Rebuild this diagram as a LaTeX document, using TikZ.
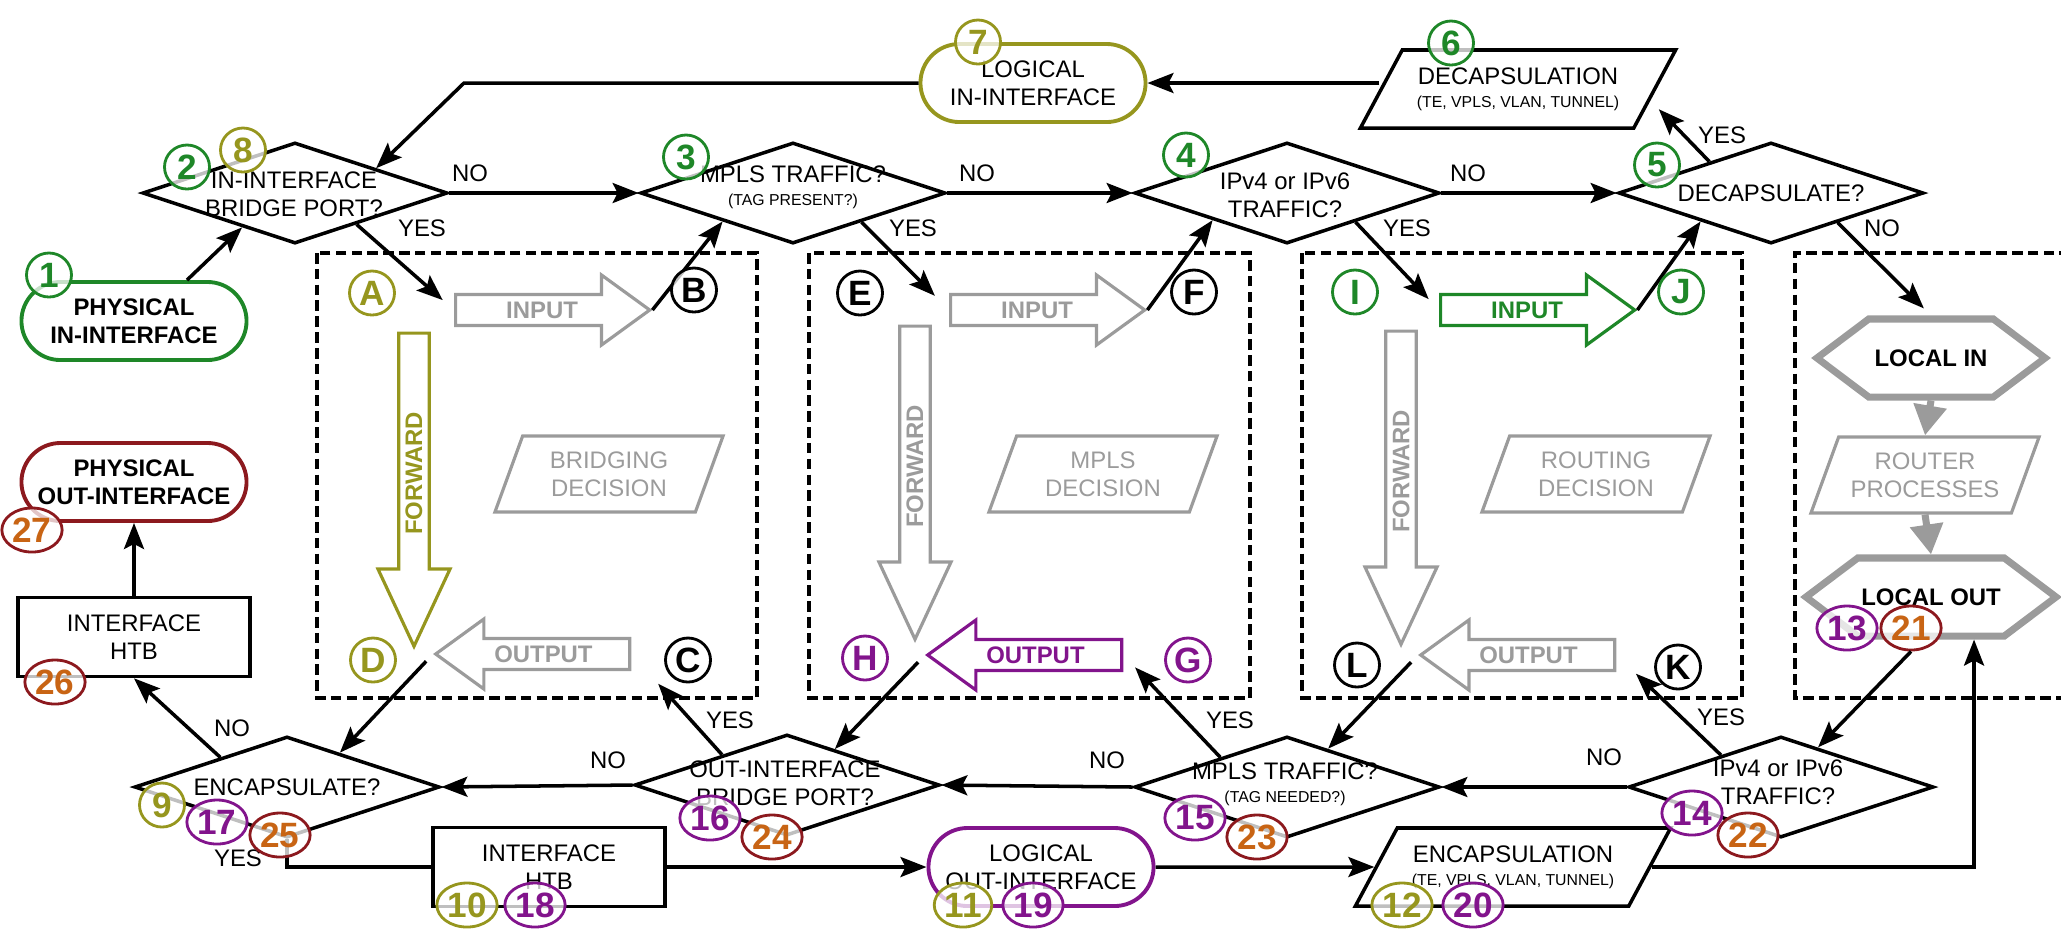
\documentclass[tikz,border=0pt]{standalone}
\usepackage{fontspec}
\setmainfont{Liberation Sans}
\usetikzlibrary{shapes.geometric, shapes.misc, shapes.arrows, shapes.symbols, arrows.meta}

\definecolor{cgreen}{RGB}{30,135,40}
\definecolor{colive}{RGB}{150,150,30}
\definecolor{cpurple}{RGB}{130,20,140}
\definecolor{cdred}{RGB}{140,25,30}
\definecolor{corange}{RGB}{200,100,20}
\definecolor{cgray}{RGB}{155,155,155}

\newcommand{\ft}{\fontsize{6.8}{8}\selectfont}
\newcommand{\fsm}{\fontsize{4.5}{5}\selectfont}
\newcommand{\fnum}{\fontsize{10}{10}\selectfont\bfseries}

\tikzset{
  decision/.style={diamond, draw=black, line width=1pt, inner sep=0pt, aspect=3, minimum width=3.05cm, minimum height=1.01cm},
  txt/.style={font=\ft, align=center, inner sep=0pt},
  iface/.style={rounded rectangle, draw=#1, line width=1.1pt, minimum width=2.32cm, minimum height=0.78cm, font=\ft\bfseries, align=center, inner sep=1pt},
  htb/.style={rectangle, draw=black, line width=1pt, minimum width=2.32cm, minimum height=0.79cm, font=\ft, align=center},
  proc/.style={trapezium, trapezium left angle=50, trapezium right angle=130, trapezium stretches body, draw=black, line width=1pt, minimum width=3.15cm, minimum height=0.78cm, font=\ft, align=center, inner sep=1pt},
  gproc/.style={trapezium, trapezium left angle=62, trapezium right angle=118, trapezium stretches body, draw=cgray, line width=0.9pt, minimum width=2.28cm, minimum height=0.76cm, font=\ft, text=cgray, align=center, inner sep=1pt},
  hexa/.style={signal, signal to=east and west, signal pointer angle=74, draw=cgray, line width=2pt, minimum width=2.28cm, minimum height=0.78cm, font=\ft\bfseries, inner sep=1pt},
  num/.style={ellipse, draw=#1, text=#1, line width=0.8pt, fill=white, fill opacity=0.75, text opacity=1, inner xsep=0.5pt, inner ysep=0pt, minimum width=0.45cm, minimum height=0.44cm, font=\fnum},
  numr/.style={num=cdred, text=corange},
  blk/.style={single arrow, draw=#1, text=#1, line width=0.9pt, font=\ft\bfseries, inner sep=1pt, single arrow head extend=0.17cm},
  inarr/.style={blk=#1, minimum height=1.94cm, minimum width=0.70cm, single arrow tip angle=72, anchor=tail},
  outarr/.style={blk=#1, minimum height=1.94cm, minimum width=0.70cm, single arrow tip angle=72, shape border rotate=180, anchor=tip},
  fwarr/.style={blk=#1, rotate=90, shape border rotate=180, minimum height=3.13cm, minimum width=0.72cm, single arrow head extend=0.185cm, single arrow tip angle=50, anchor=tip},
  conn/.style={draw, line width=1pt, -{Stealth[length=0.26cm, width=0.2cm, inset=0.05cm]}},
  wire/.style={draw, line width=1pt},
  garr/.style={draw=cgray, line width=2pt, -{Triangle[length=0.3cm, width=0.32cm]}},
  dashbox/.style={draw, line width=1pt, dash pattern=on 3pt off 1.5pt}
}

\begin{document}
\begin{tikzpicture}[x=0.01cm, y=-0.01cm]
    \useasboundingbox (0,0) rectangle (2061,929);

    % 1. 上面一行:入接口与判断
    \node [iface=cgreen] (pin) at (134,321) {PHYSICAL\\IN-INTERFACE};
    \node [decision] (d2) at (295,193) {};
    \node [txt] (d2t) at (294,194) {IN-INTERFACE\\BRIDGE PORT?};
    \node [decision] (d3) at (793,193) {};
    \node [txt] (d3t) at (793,187) {MPLS TRAFFIC?\\[-1.5pt]{\fsm (TAG PRESENT?)}};
    \node [decision] (d4) at (1287,193) {};
    \node [txt] (d4t) at (1285,195) {IPv4 or IPv6\\TRAFFIC?};
    \node [decision] (d5) at (1771,193) {};
    \node [txt] (d5t) at (1771,193) {DECAPSULATE?};
    \node [proc] (decap) at (1518,89) {DECAPSULATION\\[-1.5pt]{\fsm (TE, VPLS, VLAN, TUNNEL)}};
    \node [iface=colive, font=\ft] (lin) at (1033,83) {LOGICAL\\IN-INTERFACE};

    % 2. 四个虚线框
    \draw [dashbox] (317,253) rectangle (757,698);
    \draw [dashbox] (809,253) rectangle (1250,698);
    \draw [dashbox] (1302,253) rectangle (1742,698);
    \draw [dashbox] (2070,253) -- (1795,253) -- (1795,698) -- (2070,698);

    % 3. 框内的块箭头与决策
    \node [inarr=cgray] (in1) at (454,310) {INPUT};
    \node [outarr=cgray] (out1) at (433,654) {OUTPUT};
    \node [fwarr=colive] (fw1) at (414,650) {FORWARD};
    \node [gproc] (bd1) at (609,474) {BRIDGING\\DECISION};
    \node [inarr=cgray] (in2) at (949,310) {INPUT};
    \node [outarr=cpurple] (out2) at (925,655) {OUTPUT};
    \node [fwarr=cgray] (fw2) at (915,643) {FORWARD};
    \node [gproc] (md2) at (1103,474) {MPLS\\DECISION};
    \node [inarr=cgreen] (in3) at (1439,310) {INPUT};
    \node [outarr=cgray] (out3) at (1418,655) {OUTPUT};
    \node [fwarr=cgray] (fw3) at (1401,648) {FORWARD};
    \node [gproc] (rd3) at (1596,474) {ROUTING\\DECISION};
    \node [hexa] (lin4) at (1931,358) {LOCAL IN};
    \node [gproc] (rp4) at (1925,475) {ROUTER\\PROCESSES};
    \node [hexa] (lout4) at (1931,597) {LOCAL OUT};

    % 4. 下面一行:出接口与判断
    \node [decision] (d9) at (287,787) {};
    \node [txt] (d9t) at (287,787) {ENCAPSULATE?};
    \node [decision] (d16) at (787,785) {};
    \node [txt] (d16t) at (785,783) {OUT-INTERFACE\\BRIDGE PORT?};
    \node [decision] (d15) at (1287,787) {};
    \node [txt] (d15t) at (1285,784) {MPLS TRAFFIC?\\[-1.5pt]{\fsm (TAG NEEDED?)}};
    \node [decision] (d14) at (1781,787) {};
    \node [txt] (d14t) at (1778,782) {IPv4 or IPv6\\TRAFFIC?};
    \node [htb] (htb2) at (549,867) {INTERFACE\\HTB};
    \node [iface=cpurple, font=\ft] (lout) at (1041,867) {LOGICAL\\OUT-INTERFACE};
    \node [proc] (encap) at (1513,867) {ENCAPSULATION\\[-1.5pt]{\fsm (TE, VPLS, VLAN, TUNNEL)}};
    \node [htb] (htb1) at (134,637) {INTERFACE\\HTB};
    \node [iface=cdred] (pout) at (134,482) {PHYSICAL\\OUT-INTERFACE};

    % 5. 连线
    \draw [conn] ([xshift=0.53cm]pin.north) -- (d2.213);
    \draw [conn] (d2.east) -- (d3.west);
    \draw [conn, shorten >=0.15cm] (d2.333) -- (in1.tail);
    \draw [conn] (in1.tip) -- (d3.202);
    \draw [conn] (d3.east) -- (d4.west);
    \draw [conn, shorten >=0.2cm] (d3.337) -- (in2.tail);
    \draw [conn] (in2.tip) -- (d4.200);
    \draw [conn] (d4.east) -- (d5.west);
    \draw [conn, shorten >=0.15cm] (d4.337) -- (in3.tail);
    \draw [conn] (in3.tip) -- (d5.202);
    \draw [conn, shorten >=0.12cm] (d5.153) -- (decap.355);
    \draw [conn, shorten >=0.1cm] (d5.336) -- (lin4.north);
    \draw [conn] (decap.west |- lin.east) -- (lin.east);
    \coordinate (c1) at (464,83);
    \draw [conn] (lin.west) -- (c1) -- (d2.17);

    \draw [conn, shorten <=0.1cm] (out1.tip) -- (d9.33);
    \draw [conn, shorten >=0.4cm] (d16.155) -- (out1.tail);
    \draw [conn] (d16.west) -- (d9.east);
    \draw [conn, shorten <=0.1cm] (out2.tip) -- (d16.37);
    \draw [conn, shorten >=0.17cm] (d15.156) -- (out2.tail);
    \draw [conn] (d15.west) -- (d16.east);
    \draw [conn, shorten <=0.1cm] (out3.tip) -- (d15.43);
    \draw [conn, shorten >=0.27cm] (d14.152) -- (out3.tail);
    \draw [conn] (d14.west) -- (d15.east);
    \draw [conn] (d9.156) -- (htb1.south);
    \draw [conn] (htb1.north) -- (pout.south);
    \draw [wire] (d9.south) |- (htb2.west);
    \draw [conn] (htb2.east) -- (lout.west);
    \draw [conn] (lout.east) -- (encap.west);
    \draw [conn] (encap.east) -| ([xshift=0.43cm]lout4.south);
    \draw [garr] (lin4.south) -- (rp4.north);
    \draw [garr] (rp4.south) -- (lout4.north);

    % 6. YES / NO 标注
    \node [txt] (l2n) at (470,173) {NO};
    \node [txt] (l2y) at (422,228) {YES};
    \node [txt] (l3n) at (977,173) {NO};
    \node [txt] (l3y) at (913,228) {YES};
    \node [txt] (l4n) at (1468,173) {NO};
    \node [txt] (l4y) at (1407,228) {YES};
    \node [txt] (l5y) at (1722,135) {YES};
    \node [txt] (l5n) at (1882,228) {NO};
    \node [txt] (l14y) at (1721,717) {YES};
    \node [txt] (l14n) at (1604,757) {NO};
    \node [txt] (l15y) at (1230,720) {YES};
    \node [txt] (l15n) at (1107,760) {NO};
    \node [txt] (l16y) at (730,720) {YES};
    \node [txt] (l16n) at (608,760) {NO};
    \node [txt] (l9n) at (232,728) {NO};
    \node [txt] (l9y) at (238,858) {YES};

    % 7. 编号圆圈
    \node [num=cgreen] (n1) at (49,275) {1};
    \node [num=cgreen] (n2) at (187,167) {2};
    \node [num=colive] (n8) at (243,150) {8};
    \node [num=cgreen] (n3) at (686,157) {3};
    \node [num=cgreen] (n4) at (1186,155) {4};
    \node [num=cgreen] (n5) at (1657,165) {5};
    \node [num=cgreen] (n6) at (1451,43) {6};
    \node [num=colive] (n7) at (978,42) {7};
    \node [num=colive] (nA) at (372,293) {A};
    \node [num=black] (nB) at (694,290) {B};
    \node [num=black] (nC) at (688,660) {C};
    \node [num=colive] (nD) at (373,660) {D};
    \node [num=black] (nE) at (860,293) {E};
    \node [num=black] (nF) at (1194,292) {F};
    \node [num=cpurple] (nG) at (1188,660) {G};
    \node [num=cpurple] (nH) at (865,658) {H};
    \node [num=cgreen] (nI) at (1355,292) {I};
    \node [num=cgreen] (nJ) at (1681,292) {J};
    \node [num=black] (nK) at (1678,667) {K};
    \node [num=black] (nL) at (1357,665) {L};
    \node [num=cpurple] (n13) at (1847,628) {13};
    \node [numr] (n21) at (1911,628) {21};
    \node [num=cpurple] (n14) at (1692,813) {14};
    \node [numr] (n22) at (1748,835) {22};
    \node [num=cpurple] (n15) at (1195,818) {15};
    \node [numr] (n23) at (1257,837) {23};
    \node [num=cpurple] (n16) at (710,818) {16};
    \node [numr] (n24) at (772,837) {24};
    \node [num=colive] (n9) at (162,805) {9};
    \node [num=cpurple] (n17) at (217,822) {17};
    \node [numr] (n25) at (280,835) {25};
    \node [num=colive] (n10) at (467,905) {10};
    \node [num=cpurple] (n18) at (535,905) {18};
    \node [num=colive] (n11) at (963,905) {11};
    \node [num=cpurple] (n19) at (1033,905) {19};
    \node [num=colive] (n12) at (1402,905) {12};
    \node [num=cpurple] (n20) at (1473,905) {20};
    \node [numr] (n26) at (55,682) {26};
    \node [numr] (n27) at (32,530) {27};

    \draw [conn] (n21.south) -- (d14.47); % LOCAL OUT 回到判断
\end{tikzpicture}
\end{document}
